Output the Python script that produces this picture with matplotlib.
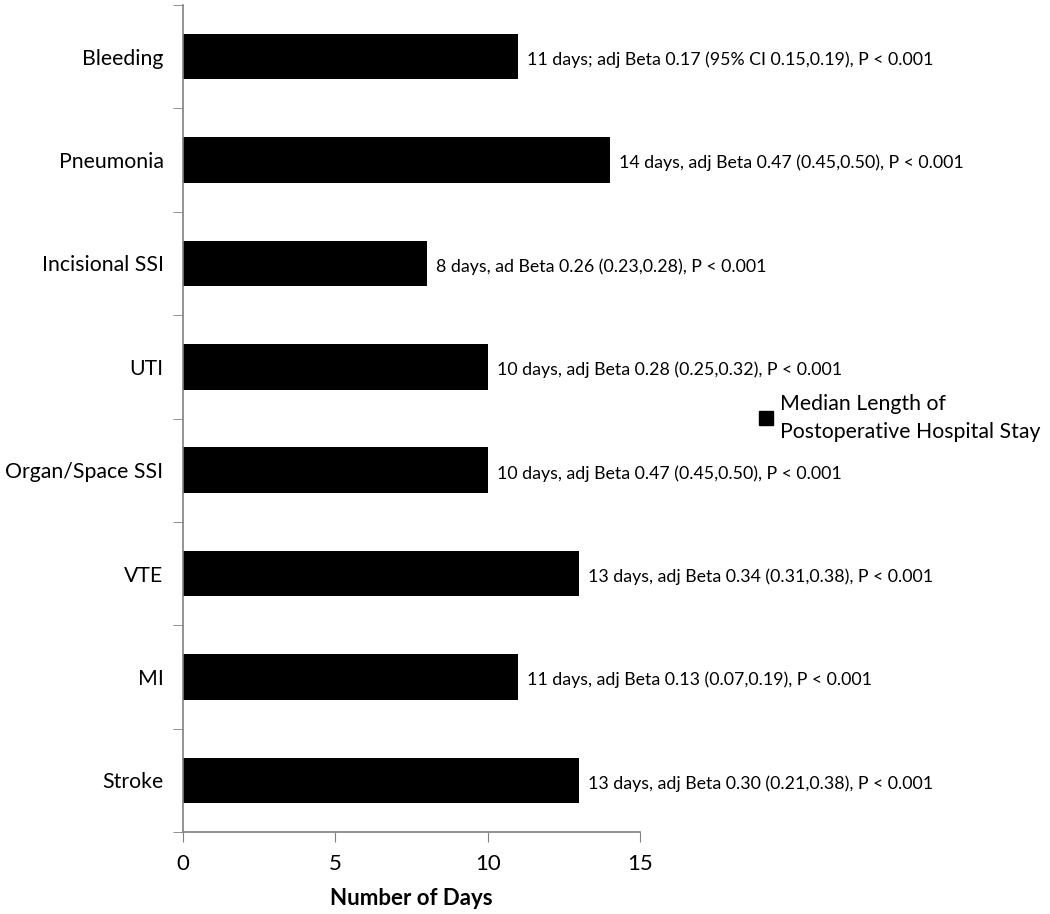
import numpy as np
import matplotlib.pyplot as plt
from matplotlib.patches import Patch

plt.rcParams['font.family'] = ['Lato', 'DejaVu Sans']

# Datos del gráfico
categories = ['Bleeding', 'Pneumonia', 'Incisional SSI', 'UTI',
              'Organ/Space SSI', 'VTE', 'MI', 'Stroke']
days = [11, 14, 8, 10, 10, 13, 11, 13]
notes = [
    '11 days; adj Beta 0.17 (95% CI 0.15,0.19), P < 0.001',
    '14 days, adj Beta 0.47 (0.45,0.50), P < 0.001',
    '8 days, ad Beta 0.26 (0.23,0.28), P < 0.001',
    '10 days, adj Beta 0.28 (0.25,0.32), P < 0.001',
    '10 days, adj Beta 0.47 (0.45,0.50), P < 0.001',
    '13 days, adj Beta 0.34 (0.31,0.38), P < 0.001',
    '11 days, adj Beta 0.13 (0.07,0.19), P < 0.001',
    '13 days, adj Beta 0.30 (0.21,0.38), P < 0.001',
]
x_ticks = [0, 5, 10, 15]

fig = plt.figure(figsize=(10.5, 9.14), dpi=100)
ax = fig.add_axes([0.1743, 0.0897, 0.6095 - 0.1743, 0.9945 - 0.0897])

n = len(categories)
y = np.arange(n)[::-1]
ax.barh(y, days, height=0.44, color='black')

for yi, d, txt in zip(y, days, notes):
    ax.text(d + 0.3, yi - 0.03, txt, va='center', ha='left', fontsize=12.8)

ax.set_xlim(0, 15)
ax.set_ylim(-0.5, n - 0.5)
ax.set_xticks(x_ticks)
ax.set_yticks(y)
ax.set_yticklabels(categories, fontsize=15.3)
ax.set_yticks(np.arange(n + 1) - 0.5, minor=True)
ax.tick_params(axis='y', which='major', length=0, pad=14)
ax.tick_params(axis='y', which='minor', length=7, color='#808080', direction='out')
ax.tick_params(axis='x', length=7, color='#808080', direction='out', labelsize=16, pad=9)

for s in ['top', 'right']:
    ax.spines[s].set_visible(False)
for s in ['left', 'bottom']:
    ax.spines[s].set_color('#808080')
    ax.spines[s].set_linewidth(1.2)

ax.set_xlabel('Number of Days', fontsize=16, fontweight='bold', labelpad=10)

leg = fig.legend(handles=[Patch(color='black')],
                 labels=['Median Length of\nPostoperative Hospital Stay'],
                 loc='center left', bbox_to_anchor=(0.705, 0.543), frameon=False,
                 fontsize=15.3, handlelength=0.65, handleheight=0.65, handletextpad=0.3)
for t in leg.get_texts():
    t.set_linespacing(1.5)

fig.savefig('out.png', dpi=100)
